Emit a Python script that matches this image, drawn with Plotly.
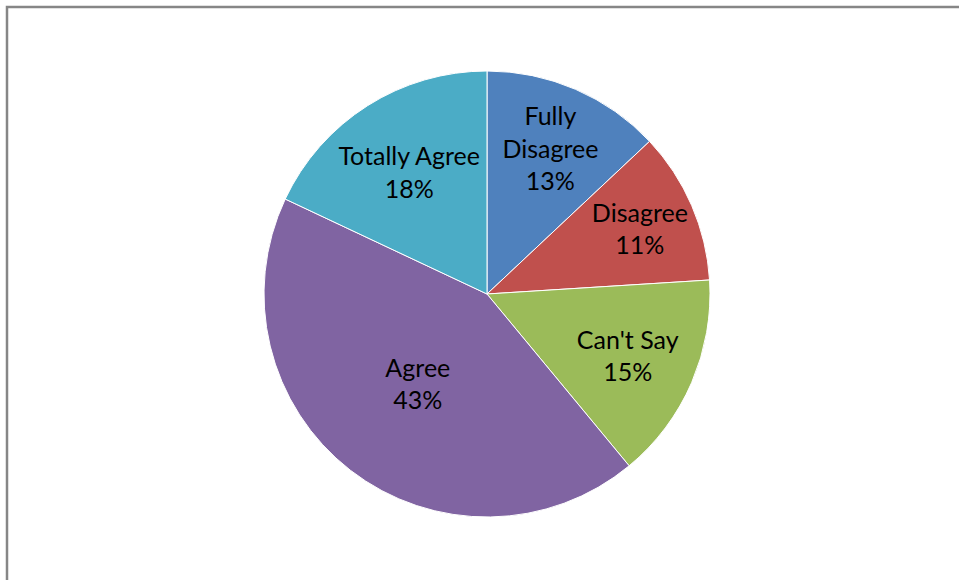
import plotly.graph_objects as go

categories = ["Fully Disagree", "Disagree", "Can't Say", "Agree", "Totally Agree"]
values = [13, 11, 15, 43, 18]
colors = ["#4F81BD", "#C0504D", "#9BBB59", "#8064A2", "#4BACC6"]

display = [c.replace(" ", "<br>") if c == "Fully Disagree" else c for c in categories]

W, H = 959, 580
fig = go.Figure(go.Pie(
    labels=categories,
    values=values,
    customdata=display,
    sort=False,
    direction="clockwise",
    rotation=0,
    marker=dict(colors=colors, line=dict(color="white", width=1)),
    texttemplate="%{customdata}<br>%{percent:.0%}",
    textposition="inside",
    insidetextorientation="horizontal",
    textfont=dict(family="Lato, Open Sans, sans-serif", size=25, color="black"),
    hoverinfo="label+percent",
    domain=dict(x=[264 / W, 710 / W], y=[(H - 517) / H, (H - 71) / H]),
))

fig.update_layout(
    width=W, height=H,
    margin=dict(l=0, r=0, t=0, b=0),
    showlegend=False,
    paper_bgcolor="white",
    uniformtext=dict(minsize=25, mode="show"),
    shapes=[dict(type="rect", xref="paper", yref="paper",
                 x0=7 / W, x1=1.05, y0=-0.05, y1=1 - 7 / H,
                 line=dict(color="#868686", width=2.5), fillcolor="rgba(0,0,0,0)")],
)

fig.write_html(
    "out.html",
    config={"displayModeBar": False},
    post_script="document.body.style.margin='0';document.body.style.overflow='hidden';",
)
